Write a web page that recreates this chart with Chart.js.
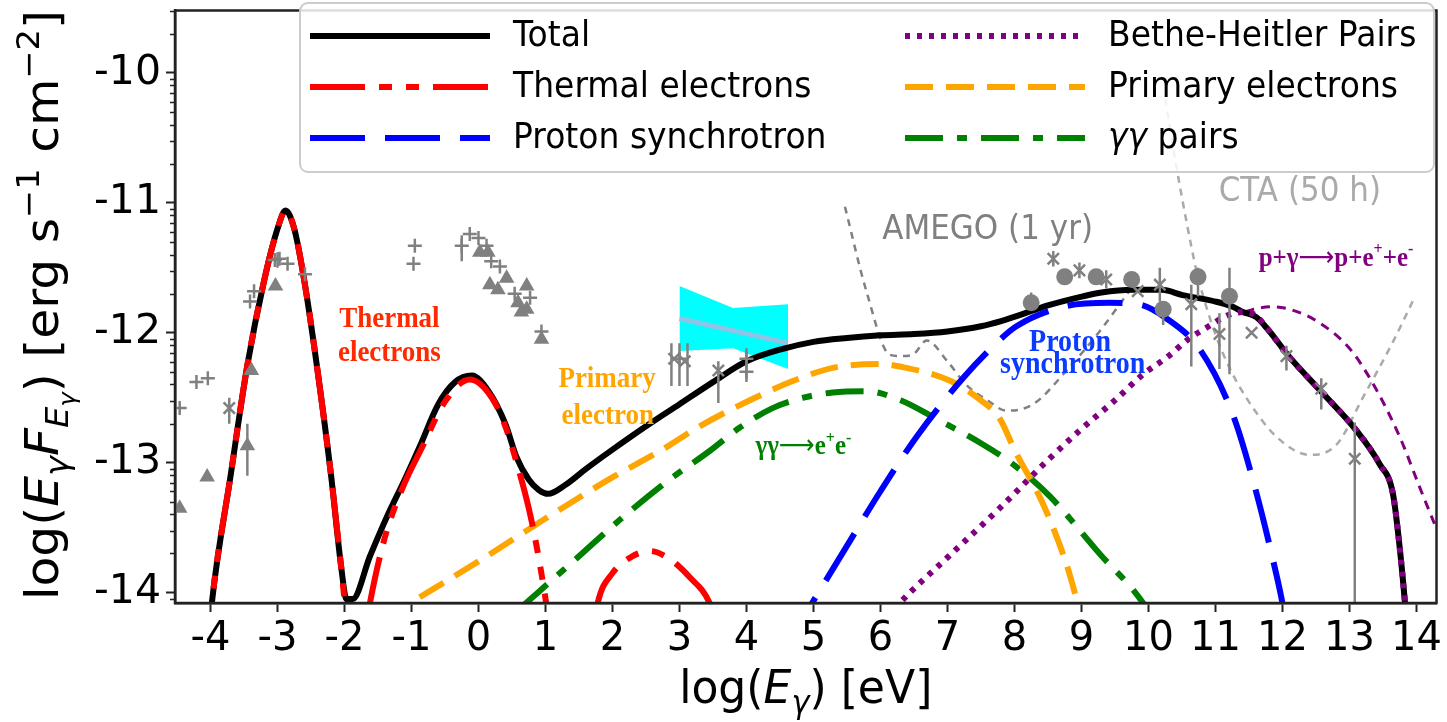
<!DOCTYPE html>
<html>
<head>
<meta charset="utf-8">
<script src="https://cdn.jsdelivr.net/npm/chart.js@4.4.1/dist/chart.umd.min.js"></script>
<style>
  html, body { margin: 0; background: #fff; }
  canvas { display: block; }
</style>
</head>
<body>
<canvas id="sed" width="1447" height="722"></canvas>
<script>
// x: log10(E / eV), y: log10(E F_E / erg s^-1 cm^-2)
const xTicks = [-4, -3, -2, -1, 0, 1, 2, 3, 4, 5, 6, 7, 8, 9, 10, 11, 12, 13, 14];
const yTicks = [-14, -13, -12, -11, -10];

const totalX = [-4.05, -3.98, -3.7, -3.45, -3.2, -3.0, -2.88, -2.75, -2.6, -2.4, -2.2, -2.05, -1.97, -1.88, -1.62, -1.37, -1.1, -0.88, -0.6, -0.35, -0.1, 0.15, 0.4, 0.57, 0.75, 0.9, 1.04, 1.3, 1.6, 2.0, 2.5, 3.0, 3.5, 4.0, 4.5, 5.0, 5.5, 6.0, 6.5, 7.0, 7.5, 7.8, 8.27, 8.5, 9.02, 9.3, 9.77, 10.2, 10.51, 11.0, 11.26, 11.41, 11.61, 11.76, 12.11, 12.61, 13.1, 13.45, 13.65, 13.75, 13.83, 13.88];
const totalY = [-14.5, -14.08, -13.1, -12.25, -11.6, -11.2, -11.06, -11.2, -11.6, -12.3, -13.1, -13.8, -14.05, -14.05, -13.72, -13.42, -13.13, -12.88, -12.55, -12.38, -12.33, -12.45, -12.7, -12.96, -13.13, -13.21, -13.24, -13.17, -13.05, -12.9, -12.72, -12.55, -12.38, -12.22, -12.13, -12.07, -12.04, -12.02, -12.01, -11.99, -11.95, -11.91, -11.83, -11.79, -11.72, -11.69, -11.67, -11.67, -11.71, -11.76, -11.8, -11.84, -11.88, -11.96, -12.19, -12.47, -12.75, -13.01, -13.24, -13.65, -14.08, -14.4];

const thermalX = [-4.05, -3.98, -3.7, -3.45, -3.2, -3.0, -2.88, -2.75, -2.6, -2.4, -2.2, -2.05, -1.95, -1.85, -1.72, -1.62, -1.4, -1.13, -0.83, -0.5, -0.13, 0.2, 0.4, 0.57, 0.75, 0.87, 1.01, 1.2, 1.5, 1.78, 2.0, 2.3, 2.56, 2.85, 3.15, 3.45, 3.7];
const thermalY = [-14.5, -14.08, -13.1, -12.25, -11.6, -11.2, -11.06, -11.2, -11.6, -12.3, -13.1, -13.8, -14.3, -14.6, -14.4, -14.08, -13.58, -13.19, -12.87, -12.53, -12.36, -12.5, -12.72, -13.0, -13.35, -13.65, -14.08, -14.8, -15.0, -14.08, -13.85, -13.72, -13.68, -13.74, -13.88, -14.08, -14.5];

const primaryX = [-1.4, -1.02, 0.0, 1.0, 2.01, 2.71, 3.3, 4.05, 4.7, 5.29, 6.0, 6.29, 7.04, 7.5, 7.78, 8.0, 8.42, 8.77, 8.9, 9.0];
const primaryY = [-14.2, -14.08, -13.76, -13.43, -13.11, -12.91, -12.72, -12.52, -12.37, -12.27, -12.24, -12.26, -12.37, -12.52, -12.66, -12.9, -13.31, -13.77, -14.0, -14.2];

const gammaX = [0.6, 0.82, 1.5, 2.11, 2.8, 3.45, 3.9, 4.39, 4.85, 5.29, 5.79, 6.3, 6.79, 7.53, 8.0, 8.53, 9.27, 9.92, 10.05];
const gammaY = [-14.13, -14.03, -13.72, -13.44, -13.15, -12.91, -12.73, -12.58, -12.5, -12.46, -12.45, -12.52, -12.65, -12.86, -13.02, -13.26, -13.7, -14.08, -14.2];

const protonX = [4.6, 4.98, 5.5, 6.0, 6.54, 7.23, 7.73, 8.03, 8.73, 9.42, 9.84, 10.27, 10.77, 11.26, 11.59, 11.86, 12.0, 12.1];
const protonY = [-14.4, -14.08, -13.64, -13.22, -12.8, -12.35, -12.08, -11.95, -11.8, -11.77, -11.78, -11.89, -12.13, -12.63, -13.19, -13.75, -14.08, -14.4];

const bhX = [6.1, 6.29, 7.0, 7.78, 8.5, 8.98, 9.5, 9.92, 10.3, 10.57, 10.9, 11.21, 11.45, 11.61, 11.76, 12.11, 12.61, 13.1, 13.45, 13.65, 13.75, 13.83, 13.88];
const bhY = [-14.2, -14.08, -13.73, -13.35, -12.98, -12.75, -12.52, -12.32, -12.18, -12.06, -11.95, -11.86, -11.84, -11.87, -11.96, -12.19, -12.47, -12.75, -13.01, -13.24, -13.65, -14.08, -14.4];

const bhAltX = [11.45, 11.56, 11.86, 12.11, 12.51, 13.0, 13.35, 13.75, 14.05, 14.27, 14.5];
const bhAltY = [-11.84, -11.82, -11.8, -11.82, -11.91, -12.12, -12.39, -12.8, -13.19, -13.47, -13.75];

// instrument sensitivities
const amegoX = [5.47, 5.79, 6.14, 6.3, 6.48, 6.69, 7.0, 7.28, 7.6, 7.88, 8.28, 8.78, 9.27, 9.77];
const amegoY = [-11.03, -11.68, -12.17, -12.18, -12.17, -12.06, -12.22, -12.4, -12.52, -12.6, -12.55, -12.29, -11.99, -11.64];
const ctaX = [10.25, 10.39, 10.57, 10.72, 10.87, 11.02, 11.21, 11.46, 11.91, 12.41, 12.81, 13.2, 13.65, 13.98];
const ctaY = [-10.2, -10.64, -11.15, -11.53, -11.81, -12.04, -12.27, -12.5, -12.8, -12.94, -12.86, -12.5, -12.07, -11.72];

// optical/UV bow-tie and its best-fit slope
const bowX = [3.0, 3.8, 4.62];
const bowHi = [-11.64, -11.81, -11.78];
const bowLo = [-12.14, -12.12, -12.28];
const bowFit = [-11.89, -12.08];

// observed fluxes
const plusPts = [[-4.46, -12.58], [-4.21, -12.38], [-4.04, -12.35], [-3.41, -11.76], [-3.35, -11.68], [-3.04, -11.44], [-2.97, -11.43], [-2.85, -11.47], [-2.59, -11.55], [-0.95, -11.33], [-0.97, -11.47], [-0.25, -11.33], [-0.13, -11.24], [0.0, -11.27], [0.12, -11.33], [0.19, -11.45], [0.32, -11.49], [0.54, -11.7], [0.77, -11.73], [0.94, -11.99], [3.0, -12.2], [4.0, -12.2], [4.0, -12.3]];
const triPts = [[-4.46, -13.35], [-4.05, -13.11], [-3.45, -12.87], [-3.39, -12.29], [-3.03, -11.64], [0.02, -11.38], [0.14, -11.38], [0.17, -11.63], [0.29, -11.67], [0.42, -11.58], [0.59, -11.77], [0.72, -11.64], [0.64, -11.84], [0.72, -11.82], [0.94, -12.05]];
const crossPts = [[-3.72, -12.58], [2.92, -12.2], [3.08, -12.22], [3.58, -12.29], [8.58, -11.43], [8.97, -11.52], [9.37, -11.59], [9.84, -11.68], [10.17, -11.63], [10.64, -11.78], [11.06, -12.01], [11.54, -12.0], [12.06, -12.18], [12.58, -12.43], [13.08, -12.97]];
const dotPts = [[8.25, -11.77], [8.75, -11.57], [9.22, -11.57], [9.75, -11.59], [10.22, -11.82], [10.74, -11.57], [11.21, -11.72]];
// [x, low, high]
const errBars = [[-3.72, -12.7, -12.5], [-3.45, -13.1, -12.7], [-3.0, -11.5, -11.38], [-0.25, -11.45, -11.25], [2.88, -12.41, -12.08], [3.0, -12.41, -12.08], [3.12, -12.41, -12.08], [3.58, -12.54, -12.22], [4.0, -12.38, -12.12], [8.25, -11.8, -11.69], [8.58, -11.49, -11.37], [8.97, -11.58, -11.46], [9.37, -11.66, -11.52], [10.17, -11.76, -11.5], [10.22, -11.94, -11.76], [10.64, -12.26, -11.63], [10.74, -11.72, -11.5], [11.06, -12.28, -11.85], [11.21, -12.32, -11.5], [12.06, -12.29, -12.1], [12.58, -12.59, -12.35], [13.08, -14.5, -12.69]];

const legendCols = [
  ['Total', 'Thermal electrons', 'Proton synchrotron'],
  ['Bethe-Heitler Pairs', 'Primary electrons', 'γγ pairs']
];

const GRAY = '#808080';
const SANS = '"DejaVu Sans", sans-serif';
const SERIF = '"Liberation Serif", "Times New Roman", serif';

const pts = (xs, ys) => xs.map((x, i) => ({ x, y: ys[i] }));
const pairs = arr => arr.map(p => ({ x: p[0], y: p[1] }));

function curve(label, xs, ys, color, width, dash, order) {
  return {
    label, data: pts(xs, ys), borderColor: color, backgroundColor: color,
    borderWidth: width, borderDash: dash, borderCapStyle: 'butt',
    pointRadius: 0, fill: false, cubicInterpolationMode: 'monotone', order
  };
}

function markers(label, arr, style, radius, filled) {
  return {
    label, data: pairs(arr), showLine: false, pointStyle: style, pointRadius: radius,
    pointBorderWidth: filled ? 0 : 2.5, pointBorderColor: GRAY,
    pointBackgroundColor: GRAY, borderColor: GRAY, backgroundColor: GRAY, order: 1
  };
}

const barData = [];
errBars.forEach(([x, lo, hi]) => {
  barData.push({ x, y: lo }, { x, y: hi }, { x, y: null });
});

const datasets = [
  markers('plus', plusPts, 'cross', 7, false),
  markers('tri', triPts, 'triangle', 9, true),
  markers('x', crossPts, 'crossRot', 8, false),
  markers('dot', dotPts, 'circle', 8.5, true),
  { label: 'errbars', data: barData, borderColor: GRAY, borderWidth: 2.5, pointRadius: 0, spanGaps: false, order: 1 },
  curve('Thermal electrons', thermalX, thermalY, '#ff0000', 6, [55, 14, 13, 14, 13, 14], 2),
  curve('Bethe-Heitler Pairs', bhX, bhY, '#800080', 6, [5, 7], 2),
  curve('Proton synchrotron', protonX, protonY, '#0000ff', 6, [55, 20], 2),
  curve('Primary electrons', primaryX, primaryY, '#ffa500', 6, [28, 13], 3),
  curve('γγ pairs', gammaX, gammaY, '#008000', 6, [38, 14, 10, 14], 3),
  curve('Total', totalX, totalY, '#000000', 6, [], 4),
  curve('BH alt', bhAltX, bhAltY, '#800080', 3, [9, 7], 5),
  curve('AMEGO', amegoX, amegoY, GRAY, 2.5, [7, 6], 5),
  curve('CTA', ctaX, ctaY, '#aaaaaa', 2.5, [7, 6], 5),
  { label: 'fit', data: pts([bowX[0], bowX[2]], bowFit), borderColor: '#8ec4e6', borderWidth: 5, pointRadius: 0, order: 6 },
  { label: 'bowHi', data: pts(bowX, bowHi), borderWidth: 0, pointRadius: 0, tension: 0, fill: '+1', backgroundColor: '#00ffff', order: 7 },
  { label: 'bowLo', data: pts(bowX, bowLo), borderWidth: 0, pointRadius: 0, tension: 0, fill: false, order: 7 }
];

// text labels placed in data coordinates
const notes = [
  { at: [-1.33, -11.9], parts: [['Thermal']], color: '#ff2a00', size: 27 },
  { at: [-1.33, -12.16], parts: [['electrons']], color: '#ff2a00', size: 27 },
  { at: [1.92, -12.36], parts: [['Primary']], color: '#ffa500', size: 27 },
  { at: [1.93, -12.64], parts: [['electron']], color: '#ffa500', size: 27 },
  { at: [4.85, -12.88], parts: [['γγ'], ['⟶', 'arrow'], ['e'], ['+', 'sup'], ['e'], ['-', 'sup']], color: '#008000', size: 25 },
  { at: [8.83, -12.08], parts: [['Proton']], color: '#0a3cff', size: 28 },
  { at: [8.87, -12.25], parts: [['synchrotron']], color: '#0a3cff', size: 28 },
  { at: [12.8, -11.43], parts: [['p+γ'], ['⟶', 'arrow'], ['p+e'], ['+', 'sup'], ['+e'], ['-', 'sup']], color: '#800080', size: 25 }
];
const sensLabels = [
  { at: [7.6, -11.21], text: 'AMEGO (1 yr)', color: GRAY },
  { at: [12.26, -10.92], text: 'CTA (50 h)', color: '#aaaaaa' }
];

function drawRich(ctx, segs, x, y) {
  let w = 0;
  segs.forEach(s => { ctx.font = s.font; w += ctx.measureText(s.t).width; });
  let cx = x - w / 2;
  ctx.textAlign = 'left';
  segs.forEach(s => {
    ctx.font = s.font;
    ctx.fillText(s.t, cx, y + (s.dy || 0));
    cx += ctx.measureText(s.t).width;
  });
}

function noteSegments(n) {
  return n.parts.map(([t, kind]) => {
    if (kind === 'sup') return { t, font: `bold ${Math.round(n.size * 0.62)}px ${SERIF}`, dy: -n.size * 0.32 };
    if (kind === 'arrow') return { t, font: `${n.size}px ${SANS}` };
    return { t, font: `bold ${n.size}px ${SERIF}` };
  });
}

const decor = {
  id: 'decor',
  afterDraw(chart) {
    const { ctx, chartArea: a, scales } = chart;
    const sx = scales.x, sy = scales.y;
    ctx.save();

    // frame
    ctx.strokeStyle = '#222';
    ctx.lineWidth = 2.5;
    ctx.strokeRect(a.left, a.top, a.right - a.left, a.bottom - a.top);

    // minor ticks on the log-flux axis
    ctx.lineWidth = 1.5;
    ctx.beginPath();
    for (let n = -15; n <= -10; n++) {
      for (let k = 2; k <= 9; k++) {
        const v = n + Math.log10(k);
        if (v <= sy.min || v >= sy.max) continue;
        const py = Math.round(sy.getPixelForValue(v)) + 0.5;
        ctx.moveTo(a.left - 5, py);
        ctx.lineTo(a.left, py);
      }
    }
    ctx.stroke();

    // process labels
    ctx.textBaseline = 'middle';
    notes.forEach(n => {
      ctx.fillStyle = n.color;
      const px = sx.getPixelForValue(n.at[0]), py = sy.getPixelForValue(n.at[1]);
      ctx.save();
      ctx.translate(px, py);
      ctx.scale(1, 1.1);
      drawRich(ctx, noteSegments(n), 0, 0);
      ctx.restore();
    });
    sensLabels.forEach(s => {
      ctx.fillStyle = s.color;
      const px = sx.getPixelForValue(s.at[0]), py = sy.getPixelForValue(s.at[1]);
      ctx.save();
      ctx.translate(px, py);
      ctx.scale(1, 1.1);
      drawRich(ctx, [{ t: s.text, font: `31px ${SANS}` }], 0, 0);
      ctx.restore();
    });

    // legend
    ctx.beginPath();
    ctx.roundRect(300, 3, 1134, 169, 8);
    ctx.fillStyle = 'rgba(255,255,255,0.85)';
    ctx.fill();
    ctx.strokeStyle = '#cccccc';
    ctx.lineWidth = 2;
    ctx.stroke();
    legendCols.forEach((col, c) => col.forEach((label, r) => {
      const ds = chart.data.datasets.find(d => d.label === label);
      const lx = c ? 905 : 310, ly = 36 + r * 51;
      ctx.beginPath();
      ctx.setLineDash(ds.borderDash || []);
      ctx.lineWidth = ds.borderWidth;
      ctx.strokeStyle = ds.borderColor;
      ctx.moveTo(lx, ly);
      ctx.lineTo(lx + 180, ly);
      ctx.stroke();
      ctx.setLineDash([]);
      ctx.fillStyle = '#000';
      ctx.save();
      ctx.translate(lx + 203, ly + 1);
      ctx.scale(1, 1.1);
      ctx.textAlign = 'left';
      if (label.startsWith('γγ')) {
        ctx.font = `italic 33px ${SANS}`;
        ctx.fillText('γγ', 0, 0);
        const w = ctx.measureText('γγ').width;
        ctx.font = `33px ${SANS}`;
        ctx.fillText(' pairs', w, 0);
      } else {
        ctx.font = `33px ${SANS}`;
        ctx.fillText(label, 0, 0);
      }
      ctx.restore();
    }));

    // axis titles
    ctx.fillStyle = '#000';
    ctx.textBaseline = 'alphabetic';
    const big = `42px ${SANS}`, it = `italic 42px ${SANS}`;
    const sub = `italic 29px ${SANS}`, sub2 = `italic 21px ${SANS}`, sup = `29px ${SANS}`;
    ctx.save();
    ctx.translate((a.left + a.right) / 2, 703);
    ctx.scale(1.05, 1.1);
    drawRich(ctx, [
      { t: 'log(', font: big }, { t: 'E', font: it }, { t: 'γ', font: sub, dy: 9 },
      { t: ') [eV]', font: big }
    ], 0, 0);
    ctx.restore();

    ctx.save();
    ctx.translate(58, 305);
    ctx.rotate(-Math.PI / 2);
    ctx.scale(1.16, 1.1);
    drawRich(ctx, [
      { t: 'log(', font: big }, { t: 'E', font: it }, { t: 'γ', font: sub, dy: 9 },
      { t: 'F', font: it }, { t: 'E', font: sub, dy: 9 }, { t: 'γ', font: sub2, dy: 15 },
      { t: ') [erg s', font: big }, { t: '−1', font: sup, dy: -17 },
      { t: ' cm', font: big }, { t: '−2', font: sup, dy: -17 }, { t: ']', font: big }
    ], 0, 0);
    ctx.restore();

    ctx.restore();
  }
};

new Chart(document.getElementById('sed'), {
  type: 'line',
  data: { datasets },
  options: {
    responsive: false,
    animation: false,
    layout: { padding: { top: 7, right: 10, left: 0, bottom: 0 } },
    plugins: { legend: { display: false }, tooltip: { enabled: false } },
    scales: {
      x: {
        type: 'linear', min: -4.53, max: 14.3,
        afterBuildTicks: s => { s.ticks = xTicks.map(v => ({ value: v })); },
        afterFit: s => { s.height = 119; s.paddingLeft = 0; s.paddingRight = 0; },
        grid: { drawOnChartArea: false, tickLength: 9, tickWidth: 2, tickColor: '#222' },
        border: { display: true, color: '#222', width: 2.5 },
        ticks: { color: '#000', padding: 4, maxRotation: 0, autoSkip: false,
          font: { family: SANS, size: 40 },
          callback: v => String(v) }
      },
      y: {
        type: 'linear', min: -14.08, max: -9.52,
        afterBuildTicks: s => { s.ticks = yTicks.map(v => ({ value: v })); },
        afterFit: s => { s.width = 175; s.paddingTop = 0; s.paddingBottom = 0; },
        grid: { drawOnChartArea: false, tickLength: 9, tickWidth: 2, tickColor: '#222' },
        border: { display: true, color: '#222', width: 2.5 },
        ticks: { color: '#000', padding: 5, autoSkip: false,
          font: { family: SANS, size: 41 },
          callback: v => String(v) }
      }
    }
  },
  plugins: [decor]
});
</script>
</body>
</html>
